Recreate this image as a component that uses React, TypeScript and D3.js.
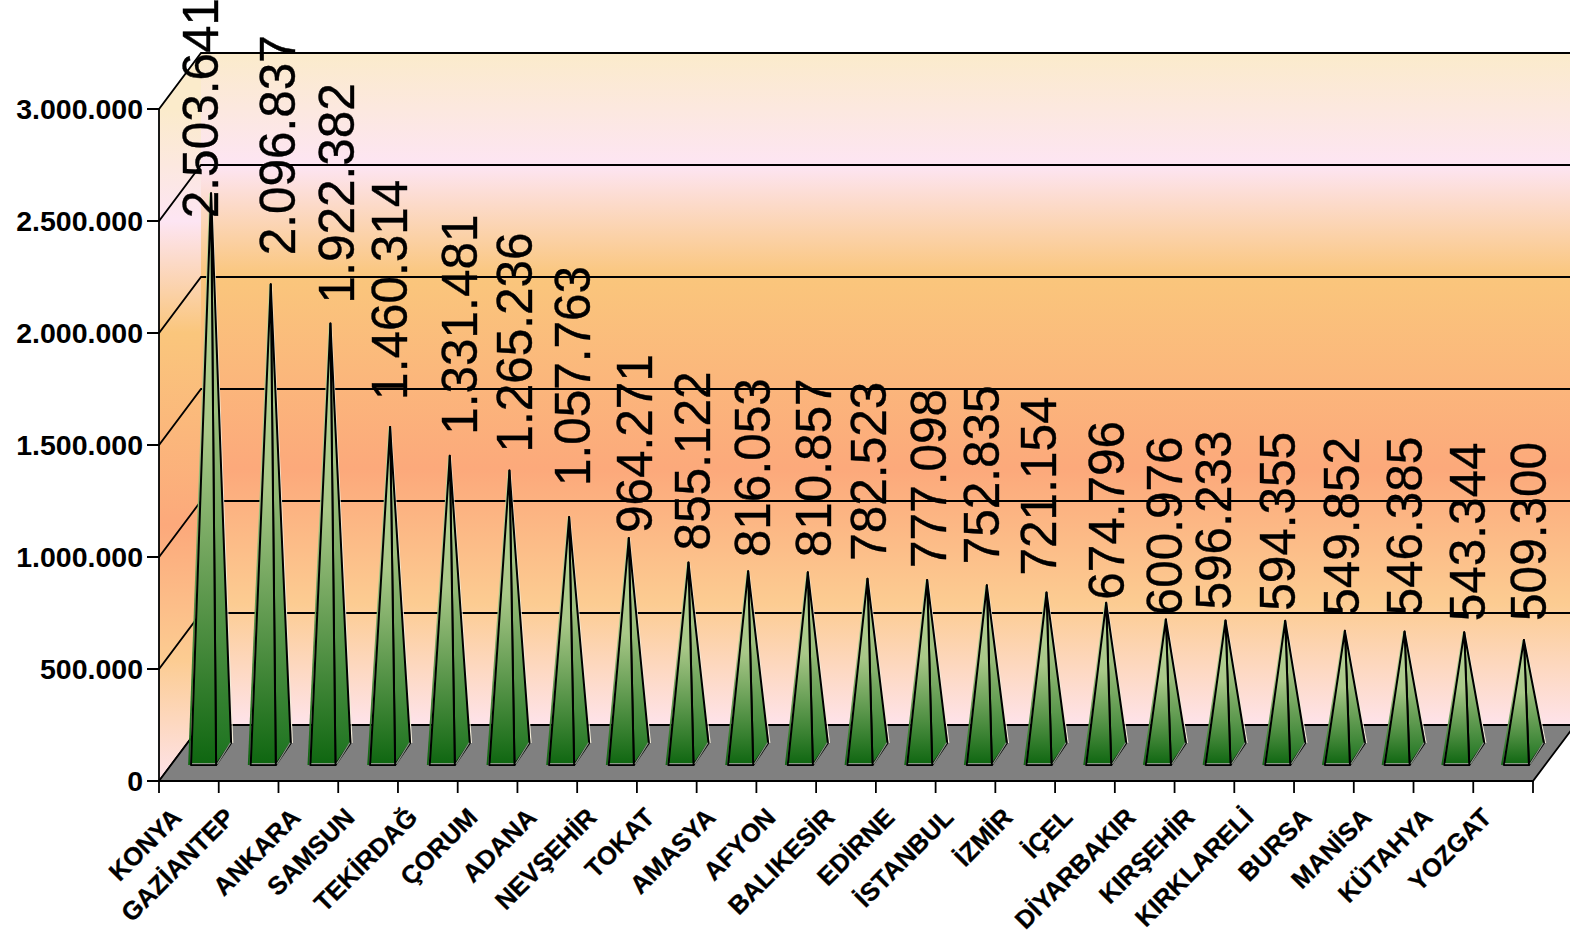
import React from "react";
import * as d3 from "d3";

const categories = ["KONYA","GAZİANTEP","ANKARA","SAMSUN","TEKİRDAĞ","ÇORUM","ADANA","NEVŞEHİR","TOKAT","AMASYA","AFYON","BALIKESİR","EDİRNE","İSTANBUL","İZMİR","İÇEL","DİYARBAKIR","KIRŞEHİR","KIRKLARELİ","BURSA","MANİSA","KÜTAHYA","YOZGAT"];
const values = [2503641,2096837,1922382,1460314,1331481,1265236,1057763,964271,855122,816053,810857,782523,777098,752835,721154,674796,600976,596233,594355,549852,546385,543344,509300];
const valueLabels = ["2.503.641","2.096.837","1.922.382","1.460.314","1.331.481","1.265.236","1.057.763","964.271","855.122","816.053","810.857","782.523","777.098","752.835","721.154","674.796","600.976","596.233","594.355","549.852","546.385","543.344","509.300"];
const yTicks = [0,500000,1000000,1500000,2000000,2500000,3000000];
const yTickLabels = ["0","500.000","1.000.000","1.500.000","2.000.000","2.500.000","3.000.000"];
// label placement relative to each pyramid tip (layout only)
const labelGap = [-25,29,20,27,21,18,31,5,12,14,15,18,12,21,17,3,4,11,10,15,16,11,19];
const labelShift = [7,24,24,17,27,23,21,23,22,22,23,19,19,12,9,18,16,5,10,14,17,21,22];
const catEnd = [183,236,302,356,419,479,538,598,656,717,777,836,896,955,1014,1074,1137,1196,1255,1313,1373,1434,1493];

const X0 = 159, X1 = 1533, DX = 42, DY = 56;
const x = d3.scaleBand<number>().domain(d3.range(categories.length)).range([X0, X1]);
const barX = d3.scaleBand<number>().domain(d3.range(categories.length)).range([X0, X1 - 1.5]);
const y = d3.scaleLinear().domain([0, 3000000]).range([781, 109]);
const pts = (p: number[][]) => p.map((q) => q.join(",")).join(" ");
const FONT = "'Liberation Sans', Arial, sans-serif";

const wallStops: [number, string][] = [
  [0, "#FBEBCB"], [0.167, "#FDE5F3"], [0.333, "#FAC67C"], [0.62, "#FCA97B"], [0.82, "#FCCC92"], [1, "#FEE3EA"],
];

export default function App() {
  const bw = barX.bandwidth();
  const yTop = y(3000000), yBase = y(0);
  return (
    <svg width={1570} height={935} style={{ position: "absolute", left: 0, top: 0, background: "#fff" }}>
      <defs>
        <linearGradient id="backWall" gradientUnits="userSpaceOnUse" x1={0} x2={0} y1={yTop - DY} y2={yBase - DY}>
          {wallStops.map(([o, c], i) => <stop key={i} offset={o} stopColor={c} />)}
        </linearGradient>
        <linearGradient id="sideWall" gradientUnits="userSpaceOnUse" x1={0} x2={0} y1={yTop} y2={yBase}>
          {wallStops.map(([o, c], i) => <stop key={i} offset={o} stopColor={c} />)}
        </linearGradient>
        <linearGradient id="front" x1={0} x2={0} y1={1} y2={0}>
          <stop offset={0} stopColor="#0E6610" />
          <stop offset={0.58} stopColor="#A9C888" />
          <stop offset={1} stopColor="#BAD79C" />
        </linearGradient>
        <linearGradient id="side" x1={0} x2={0} y1={1} y2={0}>
          <stop offset={0} stopColor="#1B721E" />
          <stop offset={0.62} stopColor="#9CBE7C" />
          <stop offset={1} stopColor="#B2D094" />
        </linearGradient>
      </defs>

      {/* walls */}
      <rect x={X0 + DX} y={yTop - DY} width={X1 - X0} height={yBase - yTop} fill="url(#backWall)" />
      <polygon points={pts([[X0, yBase], [X0 + DX, yBase - DY], [X0 + DX, yTop - DY], [X0, yTop]])} fill="url(#sideWall)" />

      {/* grid */}
      {yTicks.map((t) => (
        <polyline key={t} fill="none" stroke="#000" strokeWidth={1.8}
          points={pts([[X0 - 12, y(t)], [X0, y(t)], [X0 + DX, y(t) - DY], [X1 + DX, y(t) - DY]])} />
      ))}
      <line x1={X0} x2={X0} y1={yTop} y2={yBase} stroke="#000" strokeWidth={1.8} />

      {/* floor */}
      <polygon points={pts([[X0, yBase], [X0 + DX, yBase - DY], [X1 + DX, yBase - DY], [X1, yBase]])} fill="#808080" stroke="#000" strokeWidth={1.8} />
      {d3.range(categories.length + 1).map((i) => {
        const tx = i === categories.length ? X1 : x(i)!;
        return <line key={i} x1={tx} x2={tx} y1={yBase} y2={yBase + 12} stroke="#000" strokeWidth={1.8} />;
      })}

      {/* pyramids */}
      {values.map((v, i) => {
        const bx = barX(i)!;
        const fl = bx + bw * 0.537, fr = fl + bw * 0.42, fy = yBase - 16;
        const bkx = fr + 15, bky = fy - 22;
        const ax = (fl + bkx) / 2, ay = yBase - 27 + (y(v) - yBase);
        return (
          <g key={i}>
            <polyline points={pts([[fl - 2, fy], [ax - 0.9, ay]])} stroke="url(#front)" strokeWidth={1.8} fill="none" />
            <polyline points={pts([[bkx + 1.6, bky], [ax + 0.9, ay]])} stroke="#F2EBD8" strokeWidth={1.2} fill="none" />
            <polygon points={pts([[fr, fy], [bkx, bky], [ax, ay]])} fill="url(#side)" stroke="#000" strokeWidth={2} strokeLinejoin="round" />
            <polygon points={pts([[fl, fy], [fr, fy], [ax, ay]])} fill="url(#front)" stroke="#000" strokeWidth={2} strokeLinejoin="round" />
            <line x1={fl + 1} x2={fr - 1} y1={fy - 1.4} y2={fy - 1.4} stroke="#8A9A88" strokeWidth={1.2} />
            <line x1={fr + 1.2} x2={bkx - 0.6} y1={fy - 1.2} y2={bky - 0.2} stroke="#8A9A88" strokeWidth={1.2} />
            <text
              transform={`translate(${ax + labelShift[i]},${ay - labelGap[i]}) rotate(-90)`}
              fontFamily={FONT} fontSize={49.5} fill="#000" stroke="#000" strokeWidth={0.4}
            >{valueLabels[i]}</text>
          </g>
        );
      })}

      {/* y labels */}
      {yTicks.map((t, i) => (
        <text key={t} x={143} y={y(t) + 10} textAnchor="end" fontFamily={FONT} fontWeight="bold" fontSize={28.5} fill="#000">{yTickLabels[i]}</text>
      ))}

      {/* category labels */}
      {categories.map((c, i) => (
        <text key={c} transform={`translate(${catEnd[i]},${819}) rotate(-45)`} textAnchor="end" fontFamily={FONT} fontWeight="bold" fontSize={25.5} fill="#000" stroke="#000" strokeWidth={0.3}>{c}</text>
      ))}
    </svg>
  );
}
